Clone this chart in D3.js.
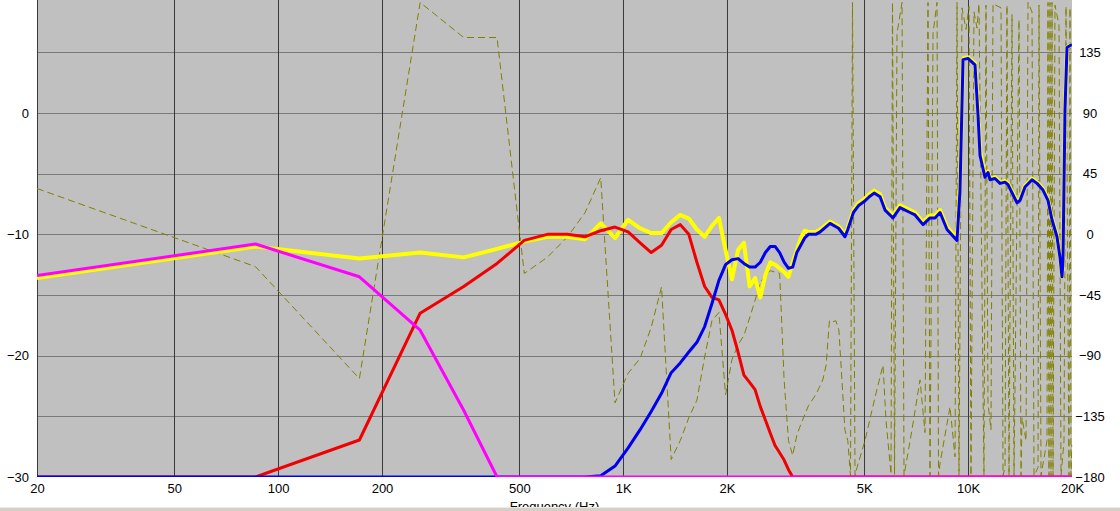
<!DOCTYPE html>
<html>
<head>
<meta charset="utf-8">
<script src="https://cdn.jsdelivr.net/npm/d3@7"></script>
<style>
    html, body { margin: 0; padding: 0; background: #ffffff; overflow: hidden; }
    text { font-family: "Liberation Sans", Arial, sans-serif; }
</style>
</head>
<body>
<div id="chart_div"></div>
<script>
// axis ticks
var freqTicks = [20, 50, 100, 200, 500, 1000, 2000, 5000, 10000, 20000];
var freqLabels = ['20', '50', '100', '200', '500', '1K', '2K', '5K', '10K', '20K'];
var dbTicks = [0, -10, -20, -30];
var dbGrid = [5, 0, -5, -10, -15, -20, -25];
var phaseTicks = [135, 90, 45, 0, -45, -90, -135, -180];

// summed response (yellow)
var sumFreq = [20, 86, 172, 258, 345, 431, 517, 603, 689, 775,
    861, 947, 1034, 1120, 1206, 1292, 1378, 1464, 1550, 1636,
    1723, 1809, 1895, 1981, 2067, 2153, 2239, 2326, 2412, 2498,
    2584, 2670, 2756, 2842, 2928, 3015, 3101, 3187, 3273, 3359,
    3445, 3617, 3725, 3978, 4212, 4396, 4479, 4651, 4823, 4996,
    5168, 5340, 5556, 5742, 6056, 6346, 6784, 7014, 7400, 7754,
    8018, 8290, 8686, 9284, 9472, 9664, 9992, 10468, 10680, 10824,
    11192, 11418, 11572, 11964, 12370, 12790, 13048, 13856, 14140, 14616,
    15314, 15834, 16480, 17038, 17500, 18094, 18460, 18708, 18834, 19086,
    19344, 19866, 19982];
var sumDb = [-13.6, -11.0, -12.0, -11.5, -11.9, -11.2, -10.6, -10.2, -10.2, -10.4,
    -9.1, -10.3, -8.8, -9.5, -9.9, -9.9, -9.0, -8.4, -8.7, -9.6,
    -10.2, -9.3, -8.65, -11.3, -13.7, -11.3, -10.7, -14.3, -13.6, -15.2,
    -13.35, -12.3, -12.5, -12.8, -13.1, -13.5, -12.3, -11.3, -10.3, -9.7,
    -9.8, -9.8, -9.6, -8.95, -9.35, -10.0, -9.45, -8.0, -7.4, -7.1,
    -6.7, -6.4, -6.7, -7.8, -8.45, -7.6, -8.0, -8.2, -9.0, -8.45,
    -8.45, -8.0, -9.4, -10.3, -5.8, 4.5, 4.6, 4.1, 0.5, -3.0,
    -5.2, -4.8, -5.4, -5.3, -5.7, -5.6, -5.8, -7.3, -7.1, -6.0,
    -5.4, -5.7, -6.25, -7.1, -8.7, -10.1, -11.8, -13.5, -12.0, 0.3,
    5.4, 5.6, 5.6];

// woofer (magenta)
var lowFreq = [20, 86, 172, 258, 345, 431, 19982];
var lowDb = [-13.4, -10.8, -13.5, -17.9, -24.5, -30, -30];

// mid (red)
var midFreq = [20, 86, 172, 258, 345, 431, 517, 603, 689, 775,
    861, 947, 1034, 1120, 1206, 1292, 1378, 1464, 1550, 1636,
    1723, 1809, 1895, 1981, 2067, 2153, 2239, 2326, 2412, 2498,
    2584, 2670, 2756, 2842, 2928, 3015, 3101, 19982];
var midDb = [-30, -30, -26.95, -16.5, -14.3, -12.4, -10.5, -10.0, -10.0, -10.2,
    -9.7, -9.4, -9.8, -10.7, -11.5, -10.9, -9.6, -9.2, -10.0, -12.3,
    -14.3, -15.2, -15.4, -16.6, -17.9, -19.7, -21.6, -22.2, -22.8, -24.2,
    -25.3, -26.4, -27.4, -28.0, -28.6, -29.4, -30, -30];

// tweeter (blue)
var highFreq = [20, 775, 861, 947, 1034, 1120, 1206, 1292, 1378, 1464,
    1550, 1636, 1723, 1809, 1895, 1981, 2067, 2153, 2239, 2326,
    2412, 2498, 2584, 2670, 2756, 2842, 2928, 3015, 3101, 3187,
    3273, 3359, 3445, 3617, 3725, 3978, 4212, 4396, 4479, 4651,
    4823, 4996, 5168, 5340, 5556, 5742, 6056, 6346, 6784, 7014,
    7400, 7754, 8018, 8290, 8686, 9284, 9472, 9664, 9992, 10468,
    10680, 10824, 11192, 11418, 11572, 11964, 12370, 12790, 13048, 13856,
    14140, 14616, 15314, 15834, 16480, 17038, 17500, 18094, 18460, 18708,
    18834, 19086, 19344, 19866, 19982];
var highDb = [-30, -30, -29.9, -29.1, -27.6, -26.1, -24.6, -23.1, -21.4, -20.6,
    -19.7, -18.9, -17.6, -15.7, -13.8, -12.5, -12.1, -12.0, -12.4, -12.7,
    -12.7, -12.3, -11.5, -11.0, -11.0, -11.5, -12.3, -12.8, -12.7, -11.5,
    -10.9, -10.3, -10.0, -10.0, -9.8, -9.1, -9.5, -10.2, -9.6, -8.2,
    -7.6, -7.3, -6.9, -6.6, -6.9, -8.0, -8.65, -7.8, -8.2, -8.4,
    -9.2, -8.65, -8.65, -8.2, -9.6, -10.5, -6.35, 4.4, 4.5, 3.96,
    -0.16, -3.5, -5.3, -4.9, -5.5, -5.4, -5.8, -5.7, -5.9, -7.4,
    -7.2, -6.1, -5.5, -5.8, -6.35, -7.2, -8.8, -10.2, -11.9, -13.5,
    -12.1, 0.25, 5.4, 5.6, 5.6];

// phase of the sum, wrapped (olive dashed, right axis)
var phaseFreq = [20, 86, 172, 258, 345, 431, 517, 603, 689, 775,
    861, 947, 1034, 1120, 1206, 1292, 1378, 1464, 1550, 1636,
    1723, 1809, 1895, 1981, 2067, 2153, 2239, 2326, 2412, 2498,
    2584, 2670, 2756, 2842, 2928, 3015, 3101, 3187, 3273, 3359,
    3445, 3617, 3790, 3876, 3962, 4048, 4134, 4220, 4307, 4393,
    4479, 4560, 4622, 4700, 4762, 5024, 5370, 5666, 5780, 5976,
    6036, 6118, 6220, 6432, 6518, 6874, 7252, 7498, 7650, 7754,
    7910, 8124, 8206, 8288, 8860, 9162, 9284, 9408, 9598, 9858,
    10058, 10192, 10398, 10608, 10750, 11114, 11264, 11416, 11646, 11804,
    12452, 12620, 12790, 12960, 13136, 13402, 13582, 14044, 14232, 14328,
    14716, 14912, 15316, 15522, 15942, 16048, 16264, 16928, 17040, 17154,
    17270, 17386, 17502, 17620, 17856, 18340, 18586, 18962, 19216, 19604,
    19735, 19866, 19982];
var phaseDeg = [34, -24, -107, 172, 146, 146, -29, -17, -2, 16,
    42, -125, -103, -92, -69, -39, -167, -153, -136, -123,
    -91, -64, -58, -119, -93, -82, -75, -62, -49, -36,
    -30, -27, -28, -29, -108, -153, -164, -149, -141, -134,
    -127, -119, -108, -97, -64, -65, -64, -71, -108, -145,
    -153, -179, 172, -179, -173, -153, -121, -97, -138, -178,
    172, -178, 149, 172, -179, -145, -108, -147, 172, -179,
    149, 172, -179, -170, -128, -165, 172, -179, 168, 152,
    169, -179, 165, 153, 171, -179, 170, -125, -145, 171,
    168, -179, -173, 170, -179, 163, -179, 159, -179, -136,
    -153, 172, 165, -179, -173, 170, -179, -153, 172, -179,
    172, -179, 172, -179, 170, 155, -179, -153, 169, -179,
    168, -179, -156];

var svgWidth = 1120;
var svgHeight = 511;
var margin = ({ top: 0, left: 37, right: 48, bottom: 34 });
var plotW = svgWidth - margin.left - margin.right;   // 1035
var plotH = svgHeight - margin.top - margin.bottom;  // 477

var x = d3.scaleLog().domain([20, 20000]).range([margin.left, margin.left + plotW]);
// 0 dB sits at y=113, -30 dB at the bottom edge
var yDb = d3.scaleLinear().domain([-30, 0]).range([plotH, 113]);
var yPhase = d3.scaleLinear().domain([-180, 90]).range([plotH, 113]);

var svg = d3.select('#chart_div')
    .append('svg')
    .attr('width', svgWidth)
    .attr('height', svgHeight)
    .style('display', 'block');

svg.append('defs').append('clipPath')
    .attr('id', 'plot_clip')
    .append('rect')
    .attr('x', margin.left)
    .attr('y', 0)
    .attr('width', plotW + 0.5)
    .attr('height', plotH);

svg.append('rect')
    .attr('x', margin.left)
    .attr('y', 0)
    .attr('width', plotW)
    .attr('height', plotH)
    .attr('fill', '#c0c0c0');

// grid lines
svg.append('g').selectAll('line').data(dbGrid).enter()
    .append('line')
    .attr('x1', margin.left).attr('x2', margin.left + plotW)
    .attr('y1', function(d) { return Math.round(yDb(d)) + 0.5; })
    .attr('y2', function(d) { return Math.round(yDb(d)) + 0.5; })
    .attr('stroke', '#7a7a7a')
    .attr('stroke-width', 1);

svg.append('g').selectAll('line').data(freqTicks.slice(0, -1)).enter()
    .append('line')
    .attr('x1', function(d) { return Math.round(x(d)) + 0.5; })
    .attr('x2', function(d) { return Math.round(x(d)) + 0.5; })
    .attr('y1', 0).attr('y2', plotH)
    .attr('stroke', '#3a3a3a')
    .attr('stroke-width', 1);

var plot = svg.append('g').attr('clip-path', 'url(#plot_clip)');

function dbLine(freqs, vals) {
    return d3.line()
        .x(function(d) { return x(d[0]); })
        .y(function(d) { return yDb(d[1]); })(d3.zip(freqs, vals));
}

plot.append('path')
    .attr('d', d3.line()
        .x(function(d) { return x(d[0]); })
        .y(function(d) { return yPhase(d[1]); })(d3.zip(phaseFreq, phaseDeg)))
    .attr('fill', 'none')
    .attr('stroke', '#808000')
    .attr('stroke-width', 1)
    .attr('stroke-dasharray', '7,4');

var series = [
    { f: sumFreq, v: sumDb, color: '#ffff00', w: 4 },
    { f: midFreq, v: midDb, color: '#f00000', w: 3 },
    { f: highFreq, v: highDb, color: '#0000f0', w: 3 },
    { f: lowFreq, v: lowDb, color: '#ff00ff', w: 3 }
];

series.forEach(function(s) {
    plot.append('path')
        .attr('d', dbLine(s.f, s.v))
        .attr('fill', 'none')
        .attr('stroke', s.color)
        .attr('stroke-width', s.w)
        .attr('stroke-linejoin', 'round');
});

// left axis (dB)
var leftAxis = svg.append('g')
    .attr('transform', `translate(${margin.left}, 0)`)
    .call(d3.axisLeft(yDb).tickValues(dbTicks).tickSize(0).tickPadding(8));
leftAxis.select('.domain').remove();

// right axis (phase)
var rightAxis = svg.append('g')
    .attr('transform', `translate(${margin.left + plotW}, 0)`)
    .call(d3.axisRight(yPhase).tickValues(phaseTicks).tickSize(0).tickPadding(18));
rightAxis.select('.domain').remove();
rightAxis.selectAll('text').attr('text-anchor', 'middle');

// bottom axis (frequency)
var bottomAxis = svg.append('g')
    .attr('transform', `translate(0, ${plotH})`)
    .call(d3.axisBottom(x).tickValues(freqTicks)
        .tickFormat(function(d, i) { return freqLabels[i]; })
        .tickSize(0).tickPadding(7));
bottomAxis.select('.domain').remove();

svg.selectAll('.tick text')
    .attr('fill', '#000000')
    .style('font-size', '13px')
    .style('font-family', '"Liberation Sans", Arial, sans-serif');

svg.append('text')
    .attr('x', margin.left + plotW / 2)
    .attr('y', 511)
    .attr('text-anchor', 'middle')
    .style('font-size', '13px')
    .text('Frequency (Hz)');

// window frame strip at the bottom
svg.append('rect')
    .attr('x', 0).attr('y', 507)
    .attr('width', svgWidth).attr('height', 4)
    .attr('fill', '#d4d0c8');
svg.append('line')
    .attr('x1', 0).attr('x2', svgWidth)
    .attr('y1', 507.5).attr('y2', 507.5)
    .attr('stroke', '#ece9e2');
</script>
</body>
</html>
